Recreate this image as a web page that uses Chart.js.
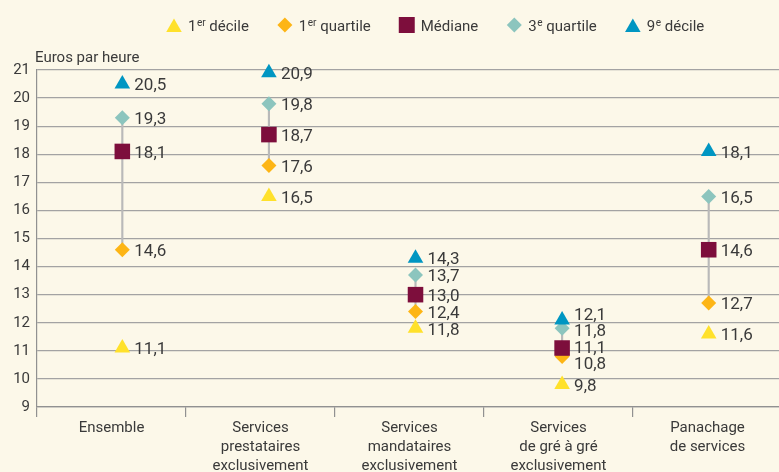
<!DOCTYPE html>
<html lang="fr">
<head>
<meta charset="utf-8">
<title>Salaire horaire selon le mode d'intervention</title>
<script src="https://cdn.jsdelivr.net/npm/chart.js@4.4.1/dist/chart.umd.min.js"></script>
<style>
  html, body { margin: 0; padding: 0; background: #fcf8e9; overflow: hidden; }
  #chart { display: block; }
</style>
</head>
<body>
<canvas id="chart" width="793" height="472"></canvas>
<script>
// ---- data ----
const categories = [
  'Ensemble',
  ['Services', 'prestataires', 'exclusivement'],
  ['Services', 'mandataires', 'exclusivement'],
  ['Services', 'de gré à gré', 'exclusivement'],
  ['Panachage', 'de services']
];
const seriesNames = ['1er décile', '1er quartile', 'Médiane', '3e quartile', '9e décile'];
const firstDecile   = [11.1, 16.5, 11.8,  9.8, 11.6];
const firstQuartile = [14.6, 17.6, 12.4, 10.8, 12.7];
const median        = [18.1, 18.7, 13.0, 11.1, 14.6];
const thirdQuartile = [19.3, 19.8, 13.7, 11.8, 16.5];
const ninthDecile   = [20.5, 20.9, 14.3, 12.1, 18.1];
const yTickValues = [9, 10, 11, 12, 13, 14, 15, 16, 17, 18, 19, 20, 21];
const yAxisTitle = 'Euros par heure';

// ---- styles ----
const FONT = "Roboto, 'Liberation Sans', sans-serif";
const TEXT = '#3a3a3a';
const GRID = '#a3a3a3';
const AXIS = '#919191';
const seriesColors = ['#ffe12b', '#fdb515', '#7d0e3c', '#8cc5be', '#0096c2'];
const seriesShapes = ['triangle', 'rectRot', 'rect', 'rectRot', 'triangle'];
const seriesRadius = [9, 7.5, 11, 7.5, 9];
const seriesValues = [firstDecile, firstQuartile, median, thirdQuartile, ninthDecile];

Chart.defaults.font.family = FONT;
Chart.defaults.color = TEXT;

function formatValue(v) {
  return v.toFixed(1).replace('.', ',');
}

// value labels to the right of each marker, spread apart when they collide
const pointLabels = {
  id: 'pointLabels',
  afterDatasetsDraw(chart) {
    const ctx = chart.ctx;
    ctx.save();
    ctx.font = '17px ' + FONT;
    ctx.fillStyle = TEXT;
    ctx.textAlign = 'left';
    ctx.textBaseline = 'middle';
    categories.forEach((c, i) => {
      const items = seriesValues.map((vals, s) => {
        const el = chart.getDatasetMeta(s).data[i];
        return { x: el.x, y: el.y + 2, text: formatValue(vals[i]) };
      }).sort((a, b) => a.y - b.y);
      for (let k = 0; k < 40; k++) {
        for (let j = 1; j < items.length; j++) {
          const gap = items[j].y - items[j - 1].y;
          if (gap < 16.5) {
            const d = (16.5 - gap) / 2;
            items[j].y += d;
            items[j - 1].y -= d;
          }
        }
      }
      items.forEach(it => ctx.fillText(it.text, it.x + 12, it.y));
    });
    ctx.restore();
  }
};

// legend on top with superscript ordinals, plus the unit above the y axis
const topLegend = {
  id: 'topLegend',
  afterDraw(chart) {
    const ctx = chart.ctx;
    ctx.save();
    const base = 31;
    let x = 166;
    seriesNames.forEach((name, s) => {
      ctx.fillStyle = seriesColors[s];
      const my = seriesShapes[s] === 'triangle' ? 27.5 : 25;
      Chart.helpers.drawPoint(ctx, { pointStyle: seriesShapes[s], radius: s === 2 ? 11.3 : seriesRadius[s], rotation: 0, borderWidth: 0 }, x + 8, my);
      ctx.fillStyle = TEXT;
      ctx.textAlign = 'left';
      ctx.textBaseline = 'alphabetic';
      let tx = x + 22;
      const m = name.match(/^(\d)(er|e)( .*)$/);
      ctx.font = '15px ' + FONT;
      if (m) {
        ctx.fillText(m[1], tx, base);
        tx += ctx.measureText(m[1]).width + 0.5;
        ctx.font = '10px ' + FONT;
        ctx.fillText(m[2], tx, base - 5.5);
        tx += ctx.measureText(m[2]).width;
        ctx.font = '15px ' + FONT;
        ctx.fillText(m[3], tx, base);
        tx += ctx.measureText(m[3]).width;
      } else {
        ctx.fillText(name, tx, base);
        tx += ctx.measureText(name).width;
      }
      x = tx + 28;
    });
    ctx.font = '15px ' + FONT;
    ctx.fillText(yAxisTitle, 35, 62);
    ctx.restore();
  }
};

const datasets = seriesValues.map((vals, s) => ({
  type: 'scatter',
  label: seriesNames[s],
  data: vals.map((v, i) => ({ x: i, y: v })),
  xAxisID: 'xPts',
  pointStyle: seriesShapes[s],
  pointRadius: seriesRadius[s],
  pointBackgroundColor: seriesColors[s],
  pointBorderWidth: 0,
  clip: false,
  order: 5 - s
}));

// thin grey line joining 1st and 3rd quartile
datasets.push({
  type: 'bar',
  label: 'Intervalle interquartile',
  data: firstQuartile.map((q, i) => ({ x: i, y: [q, thirdQuartile[i]] })),
  xAxisID: 'xPts',
  backgroundColor: '#b9b9b9',
  borderWidth: 0,
  barThickness: 1.5,
  order: 10
});

new Chart(document.getElementById('chart'), {
  type: 'scatter',
  data: { labels: categories, datasets },
  options: {
    responsive: false,
    animation: false,
    events: [],
    layout: { padding: { top: 70, right: 2, left: 0, bottom: 0 } },
    plugins: {
      legend: { display: false },
      tooltip: { enabled: false }
    },
    scales: {
      x: {
        type: 'category',
        position: 'bottom',
        offset: true,
        grid: { offset: true, drawOnChartArea: false, drawTicks: true, tickLength: 10, color: AXIS, lineWidth: 1.2 },
        border: { display: true, color: AXIS, width: 1.2 },
        ticks: { color: TEXT, font: { size: 15, lineHeight: 1.27 }, padding: 2, maxRotation: 0, autoSkip: false },
        afterFit: scale => { scale.height = 65; }
      },
      xPts: {
        type: 'linear', position: 'bottom', display: false,
        offset: false, grid: { offset: false },
        min: -0.582, max: 4.5
      },
      y: {
        type: 'linear',
        beginAtZero: false,
        min: yTickValues[0],
        max: yTickValues[yTickValues.length - 1],
        afterBuildTicks: scale => { scale.ticks = yTickValues.map(v => ({ value: v })); },
        grid: { color: GRID, lineWidth: 1.2, drawTicks: false },
        border: { display: true, color: AXIS, width: 1.2 },
        ticks: { color: TEXT, font: { size: 15 }, padding: 7 },
        afterFit: scale => { scale.width = 37; }
      }
    }
  },
  plugins: [pointLabels, topLegend]
});
</script>
</body>
</html>
